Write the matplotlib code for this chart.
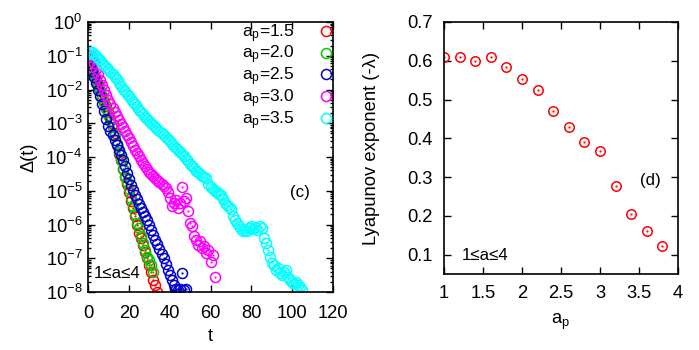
import numpy as np
import matplotlib
matplotlib.use("Agg")
import matplotlib.pyplot as plt
from matplotlib.ticker import LogLocator, NullFormatter, MultipleLocator, FormatStrFormatter

plt.rcParams['font.family'] = ['Liberation Sans', 'DejaVu Sans']
plt.rcParams['axes.unicode_minus'] = False
plt.rcParams['mathtext.fontset'] = 'custom'
plt.rcParams['mathtext.rm'] = 'Liberation Sans'
plt.rcParams['mathtext.it'] = 'Liberation Sans'

# panel (c): log10 of Delta(t), one value per unit time step t = 0, 1, 2, ...
labels = ['1.5', '2.0', '2.5', '3.0', '3.5']
colors = ['#ff0000', '#00cc00', '#0000d0', '#ff00ff', '#00ffff']

log_d15 = [-1.10, -1.25, -1.40, -1.55, -1.70, -1.85, -2.00, -2.18, -2.35, -2.50,
           -2.68, -2.85, -3.02, -3.30, -3.60, -3.90, -4.10, -4.35, -4.60, -4.80,
           -5.05, -5.30, -5.50, -5.75, -6.00, -6.25, -6.40, -6.60, -6.80, -7.00,
           -7.20, -7.40, -7.65, -7.80, -8.00]
log_d20 = [-1.10, -1.26, -1.42, -1.58, -1.74, -1.90, -2.05, -2.22, -2.40, -2.58,
           -2.75, -2.92, -3.10, -3.35, -3.60, -3.85, -4.10, -4.35, -4.55, -4.75,
           -4.95, -5.20, -5.45, -5.70, -5.95, -6.10, -6.35, -6.55, -6.75, -6.95,
           -7.05, -7.20, -7.40]
log_d25 = [-1.10, -1.28, -1.46, -1.64, -1.82, -2.00, -2.20, -2.42, -2.64, -2.86,
           -3.08, -3.22, -3.36, -3.50, -3.65, -3.80, -3.95, -4.10, -4.28, -4.46,
           -4.64, -4.82, -4.98, -5.12, -5.25, -5.38, -5.50, -5.62, -5.75, -5.88,
           -6.00, -6.15, -6.30, -6.45, -6.58, -6.72, -6.86, -7.00, -7.18, -7.35,
           -7.50, -7.65, -7.80, -7.92, -7.95, -7.90, -7.45, -7.93, -7.92]
log_d30 = [-1.00, -0.98, -1.05, -1.20, -1.38, -1.55, -1.72, -1.88, -2.02, -2.16,
           -2.30, -2.42, -2.54, -2.66, -2.78, -2.90, -3.01, -3.12, -3.23, -3.34,
           -3.45, -3.56, -3.67, -3.78, -3.88, -3.98, -4.08, -4.18, -4.27, -4.35,
           -4.43, -4.50, -4.56, -4.62, -4.68, -4.74, -4.80, -4.86, -4.92, -5.05,
           -5.20, -5.45, -5.35, -5.28, -5.50, -5.35, -4.90, -5.30, -5.20, -5.60,
           -5.95, -6.05, -6.35, -6.45, -6.60, -6.50, -6.70, -6.65, -6.85, -6.75,
           -7.10, -6.90, -7.55]
log_d35 = [-0.95, -0.88, -0.90, -0.95, -1.02, -1.08, -1.13, -1.20, -1.27, -1.34,
           -1.40, -1.48, -1.55, -1.63, -1.70, -1.80, -1.90, -1.98, -2.05, -2.12,
           -2.20, -2.28, -2.36, -2.44, -2.52, -2.60, -2.68, -2.74, -2.80, -2.87,
           -2.94, -3.00, -3.06, -3.12, -3.18, -3.24, -3.30, -3.36, -3.42, -3.48,
           -3.54, -3.60, -3.66, -3.72, -3.78, -3.85, -3.90, -3.98, -4.05, -4.12,
           -4.20, -4.27, -4.34, -4.40, -4.45, -4.50, -4.55, -4.60, -4.62, -4.80,
           -4.90, -4.95, -5.00, -5.05, -5.10, -5.12, -5.25, -5.35, -5.42, -5.48,
           -5.55, -5.75, -5.87, -5.95, -6.05, -6.12, -6.18, -6.15, -6.20, -6.10,
           -6.05, -6.12, -6.08, -6.15, -6.05, -6.10, -6.40, -6.55, -6.75, -6.95,
           -7.15, -7.20, -7.35, -7.30, -7.45, -7.50, -7.40, -7.35, -7.55, -7.65,
           -7.70, -7.75, -7.70, -7.80, -7.85, -7.95]
series = [log_d15, log_d20, log_d25, log_d30, log_d35]

# panel (d): Lyapunov exponent vs a_p
a_p = [1.0, 1.2, 1.4, 1.6, 1.8, 2.0, 2.2, 2.4, 2.6, 2.8, 3.0, 3.2, 3.4, 3.6, 3.8]
lyap = [0.61, 0.61, 0.60, 0.61, 0.583, 0.553, 0.525, 0.47, 0.43, 0.39,
        0.368, 0.277, 0.205, 0.16, 0.122]

fs = 13.2
fig = plt.figure(figsize=(6.99, 3.5), dpi=100)
ax1 = fig.add_axes([88 / 699, 58 / 350, 245 / 699, 270 / 350])
ax2 = fig.add_axes([444 / 699, 76 / 350, 234 / 699, 252 / 350])

for vals, lab, c in zip(series, labels, colors):
    t = np.arange(len(vals))
    d = 10.0 ** np.array(vals)
    ax1.plot(t, d, 'o', mfc='none', mec=c, ms=7.2, mew=1.1, label='a$_p$=' + lab)
    ax1.plot(t, d, '.', color=c, ms=1.2)

ax1.set_yscale('log')
ax1.set_xlim(0, 120)
ax1.set_ylim(1e-8, 1)
ax1.xaxis.set_major_locator(MultipleLocator(20))
ax1.yaxis.set_major_locator(LogLocator(base=10, numticks=20))
ax1.yaxis.set_minor_locator(LogLocator(base=10, subs=np.arange(2, 10), numticks=20))
ax1.yaxis.set_minor_formatter(NullFormatter())
ax1.set_xlabel('t', fontsize=fs, labelpad=5)
ax1.set_ylabel('Δ(t)', fontsize=fs, labelpad=6)
leg = ax1.legend(loc='upper right', frameon=False, markerfirst=False, fontsize=12.5,
                 handlelength=0.8, handletextpad=1.4, labelspacing=-0.05,
                 borderaxespad=0.0, borderpad=0.0)
ax1.text(0.865, 0.37, '(c)', transform=ax1.transAxes, fontsize=fs - 1,
         ha='center', va='center')
ax1.text(0.025, 0.07, '1≤a≤4', transform=ax1.transAxes, fontsize=fs - 1,
         ha='left', va='center')

ax2.plot(a_p, lyap, 'o', mfc='none', mec='#ff0000', ms=6.8, mew=1.1)
ax2.plot(a_p, lyap, '.', color='#ff0000', ms=1.2)
ax2.set_xlim(1, 4)
ax2.set_ylim(0.05, 0.7)
ax2.xaxis.set_major_locator(MultipleLocator(0.5))
ax2.set_yticks([0.1, 0.2, 0.3, 0.4, 0.5, 0.6, 0.7])
ax2.xaxis.set_major_formatter(FormatStrFormatter('%g'))
ax2.set_xlabel('a$_p$', fontsize=fs, labelpad=7)
ax2.set_ylabel('Lyapunov exponent (-λ)', fontsize=fs, labelpad=20)
ax2.text(0.88, 0.373, '(d)', transform=ax2.transAxes, fontsize=fs - 1,
         ha='center', va='center')
ax2.text(0.077, 0.075, '1≤a≤4', transform=ax2.transAxes, fontsize=fs - 1,
         ha='left', va='center')

for ax in (ax1, ax2):
    ax.tick_params(which='both', direction='in', top=True, right=True,
                   labelsize=fs, width=1)
    ax.tick_params(which='major', length=5)
    ax.tick_params(which='minor', length=2.5)
    for s in ax.spines.values():
        s.set_linewidth(1.2)
ax1.tick_params(axis='x', pad=9)
ax1.tick_params(axis='y', pad=4)
ax2.tick_params(axis='x', pad=8)
ax2.tick_params(axis='y', pad=8)

fig.savefig('out.png', dpi=100)
